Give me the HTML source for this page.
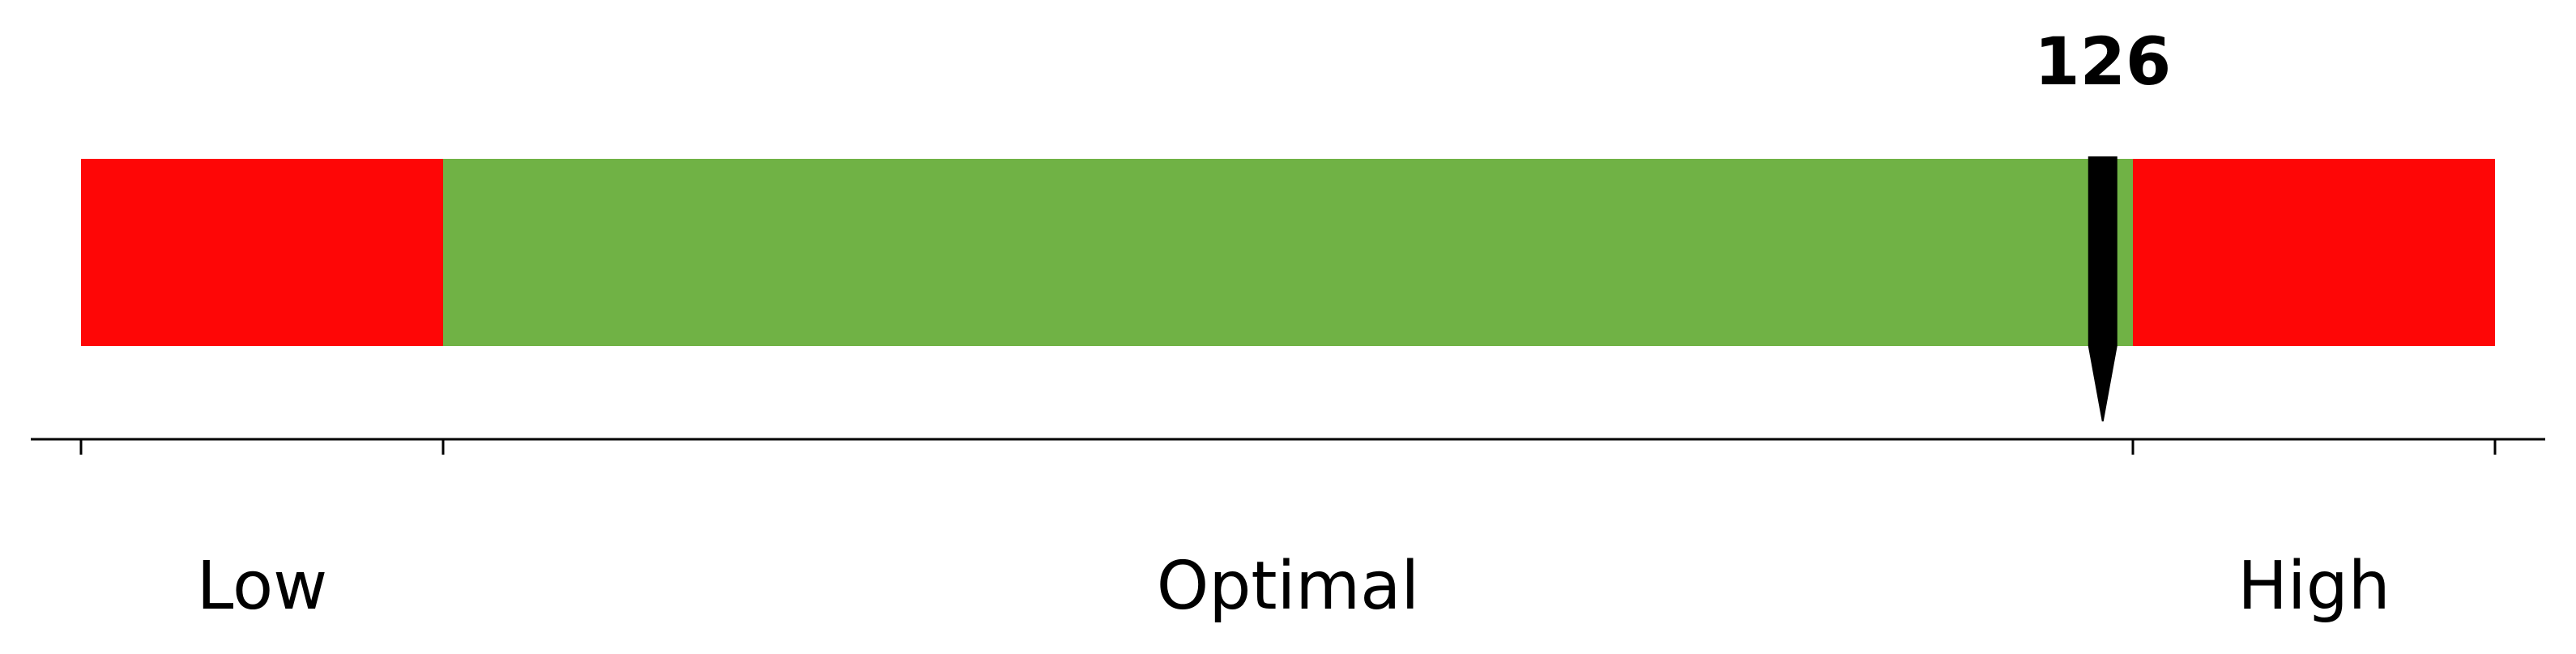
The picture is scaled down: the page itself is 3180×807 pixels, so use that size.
<!DOCTYPE html>
<html><head><meta charset="utf-8"><style>
html,body{margin:0;padding:0;background:#fff;}
svg{display:block;}
text{font-family:"DejaVu Sans","Liberation Sans",sans-serif;}
</style></head><body>
<svg id="chart" width="3180" height="807" viewBox="0 0 3180 807" xmlns="http://www.w3.org/2000/svg"></svg>
<script>
const bounds = [59, 71, 127, 139];
const zoneLabels = ["Low", "Optimal", "High"];
const zoneColors = ["#fe0606", "#70b245", "#fe0606"];
const markerValue = [126];

const NS = "http://www.w3.org/2000/svg";
const svg = document.getElementById("chart");
const X0 = 100, X1 = 3080;
function xScale(v){ return X0 + (v - bounds[0]) / (bounds[bounds.length-1] - bounds[0]) * (X1 - X0); }
function mk(tag, attrs){ const e = document.createElementNS(NS, tag); for (const k in attrs) e.setAttribute(k, attrs[k]); svg.appendChild(e); return e; }

const barTop = 196, barBot = 427;
for (let i = 0; i < zoneLabels.length; i++) {
  const r = mk("rect", {x: xScale(bounds[i]), y: barTop, width: xScale(bounds[i+1]) - xScale(bounds[i]), height: barBot - barTop, fill: zoneColors[i]});
  
  
  const t = mk("text", {x: (xScale(bounds[i]) + xScale(bounds[i+1])) / 2, y: 751, "text-anchor": "middle", "font-size": "82", fill: "#000"});
  t.textContent = zoneLabels[i];
  
  
}

const ax = mk("line", {x1: 38, x2: 3142, y1: 542, y2: 542, stroke: "#000", "stroke-width": 3});


for (let i = 0; i < bounds.length; i++) {
  const tk = mk("line", {x1: xScale(bounds[i]), x2: xScale(bounds[i]), y1: 542, y2: 561, stroke: "#000", "stroke-width": 3});
  
  
}

const mx = xScale(markerValue[0]);
const mBody = mk("rect", {x: mx - 18, y: 193, width: 36, height: 234, fill: "#000"});


const mTip = mk("polygon", {points: (mx-18)+",427 "+(mx+18)+",427 "+(mx+1)+",520 "+(mx-1)+",520", fill: "#000"});


const vt = mk("text", {x: mx, y: 104, "text-anchor": "middle", "font-size": "81", "font-weight": "bold", fill: "#000"});
vt.textContent = String(markerValue[0]);


</script>
</body></html>
